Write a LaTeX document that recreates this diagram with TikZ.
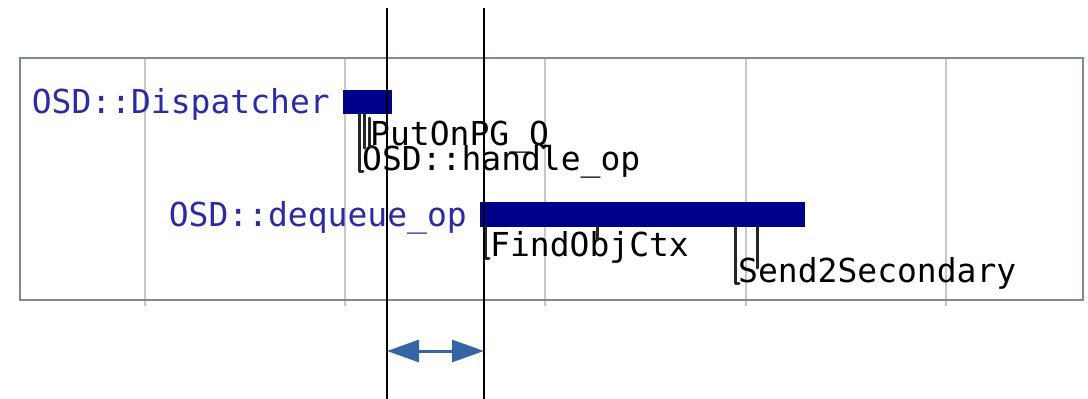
\documentclass[tikz,border=0pt]{standalone}
\usepackage{fontspec}
\newfontfamily\tracefont{DejaVu Sans Mono}
\usetikzlibrary{arrows.meta}

\definecolor{spanblue}{HTML}{00008B}
\definecolor{labelblue}{HTML}{2B2BA3}
\definecolor{framegray}{HTML}{7F8C8D}
\definecolor{gridgray}{HTML}{C8C8C8}
\definecolor{arrowblue}{HTML}{3465A4}

\begin{document}
\begin{tikzpicture}[x=1pt,y=-1pt,
  lbl/.style={font=\tracefont\fontsize{33}{36}\selectfont, inner sep=0pt},
  spanlbl/.style={lbl, text=labelblue, anchor=base east},
  calllbl/.style={lbl, text=black, anchor=base west},
  spanbar/.style={fill=spanblue, draw=none, inner sep=0pt, anchor=north west},
  callmark/.style={black!85, line width=3pt, line cap=round, line join=round},
  gridline/.style={gridgray, line width=1.3pt},
  cursor/.style={black, line width=2pt},
  span/.style={arrowblue, line width=3pt,
    {Triangle[length=32pt,width=22pt]}-{Triangle[length=32pt,width=22pt]}},
]
\useasboundingbox (0,0) rectangle (1088,399);

% time grid
\foreach \gx in {145,345,545,746,946}
  \draw[gridline] (\gx,57) -- (\gx,306);

% timeline frame
\node[draw=framegray, line width=2.2pt, inner sep=0pt, anchor=north west,
      minimum width=1063pt, minimum height=242pt] (frame) at (19,57) {};

% spans
\node[spanbar, minimum width=49pt, minimum height=24pt] (disp) at (343,90) {};
\node[spanlbl] (displbl) at (330,113) {OSD::Dispatcher};

\node[spanbar, minimum width=325pt, minimum height=25pt] (deq) at (480,202) {};
\node[spanlbl] (deqlbl) at (467,226) {OSD::dequeue\_op};

% calls inside OSD::Dispatcher
\node[calllbl] (putlbl) at (370,145) {PutOnPG\_Q};
\node[calllbl] (handlelbl) at (362,170) {OSD::handle\_op};
\draw[callmark] (359,114) -- (359,171) -- (363,171);
\draw[callmark] (364,114) -- (364,148);
\draw[callmark] (369,118) -- (369,146) -- (373,146);

% calls inside OSD::dequeue_op
\node[calllbl] (findlbl) at (490,256) {FindObjCtx};
\node[calllbl] (sendlbl) at (738,282) {Send2Secondary};
\draw[callmark] (485,227) -- (485,258) -- (489,258);
\draw[callmark] (597,227) -- (597,240);
\draw[callmark] (735,227) -- (735,283) -- (739,283);
\draw[callmark] (757,227) -- (757,268);

% selection cursors and the interval between them
\coordinate (c1top) at (387,8);
\coordinate (c1bot) at (387,399);
\coordinate (c2top) at (484,8);
\coordinate (c2bot) at (484,399);
\draw[cursor] (c1top) -- (c1bot);
\draw[cursor] (c2top) -- (c2bot);
\coordinate (c1mid) at (387,351);
\coordinate (c2mid) at (484,351);
\draw[span] (c1mid) -- (c2mid);
\end{tikzpicture}
\end{document}
